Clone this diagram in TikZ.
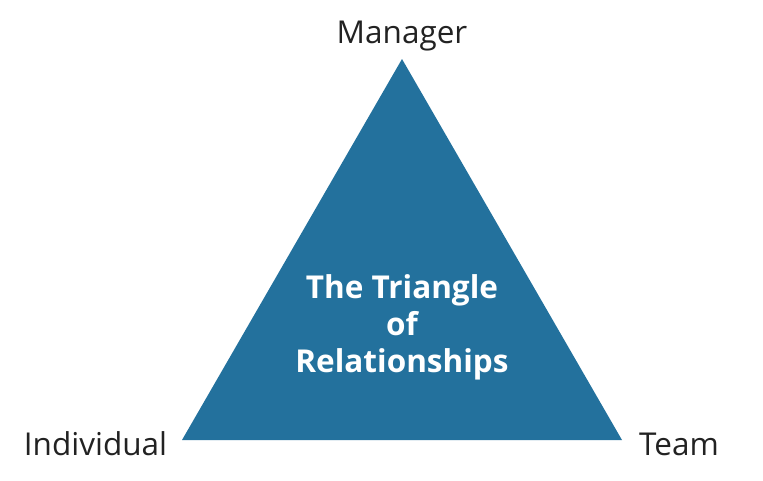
\documentclass[tikz,border=0pt]{standalone}
\usepackage{fontspec}
\setmainfont{Open Sans}
\definecolor{tri}{HTML}{23719D}
\definecolor{lbl}{HTML}{222222}
\begin{document}
\begin{tikzpicture}[x=1pt,y=-1pt,
  vlabel/.style={text=lbl,font=\fontsize{31.5}{38}\selectfont,inner sep=0pt,anchor=base},
  title/.style={text=white,font=\bfseries\fontsize{31.5}{37}\selectfont,align=center,inner sep=0pt,anchor=base}]
\useasboundingbox (0,0) rectangle (763,480);
\coordinate (T) at (402,59);
\coordinate (L) at (182,440);
\coordinate (R) at (622,440);
\fill[tri] (T) -- (L) -- (R) -- cycle;
\node[title] (c) at (402,372) {The Triangle\\of\\Relationships};
\node[vlabel] (m) at (402,43.5) {Manager};
\node[vlabel] (i) at (95.5,455) {Individual};
\node[vlabel] (t) at (679,455) {Team};
\end{tikzpicture}
\end{document}
